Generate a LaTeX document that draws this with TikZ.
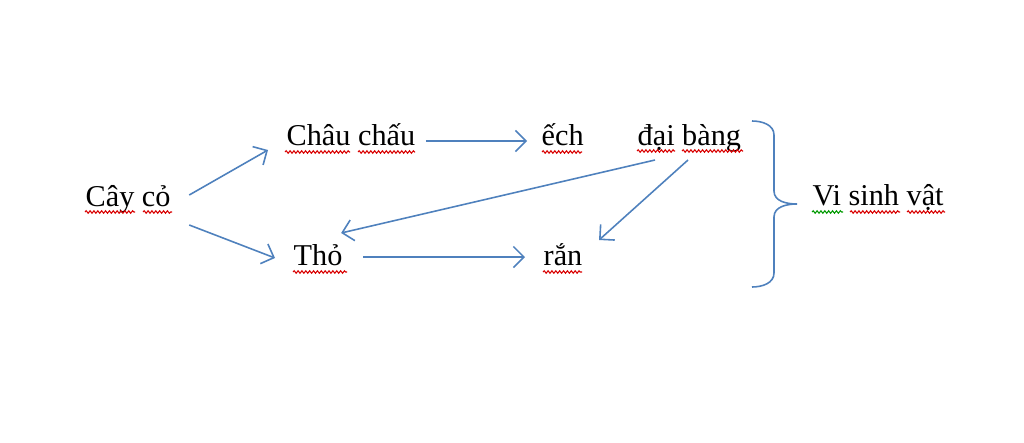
\documentclass[tikz,border=0pt]{standalone}
\usepackage{fontspec}
\setmainfont{Liberation Serif}
\usetikzlibrary{arrows.meta,calc,decorations.pathmorphing}
\definecolor{wordblue}{HTML}{4F81BD}
\tikzset{
  word/.style={anchor=base west, inner sep=0pt, font=\fontsize{8.6}{10}\selectfont},
  arr/.style={draw=wordblue, line width=0.45pt, -{Straight Barb[length=3pt,width=6pt]}},
  spell/.style={draw=red!85!black, line width=0.3pt, decorate,
    decoration={snake, segment length=1.1pt, amplitude=0.35pt}},
}
\begin{document}
\begin{tikzpicture}[x=0.01cm, y=-0.01cm]
    \useasboundingbox (0,0) rectangle (1024,442);

    % Words
    \node[word] (cay) at (85,206) {Cây cỏ};
    \node[word] (chau) at (286,145) {Châu chấu};
    \node[word] (ech) at (541,145) {ếch};
    \node[word] (dai) at (637,145) {đại bàng};
    \node[word] (tho) at (293,265) {Thỏ};
    \node[word] (ran) at (543,265) {rắn};
    \node[word] (vsv) at (812,205) {Vi sinh vật};

    % Arrows
    \draw[arr] ($(cay.base east)+(18,-11)$) -- ($(chau.base west)+(-18,5)$);
    \draw[arr] ($(cay.base east)+(18,19)$) -- ($(tho.base west)+(-18,-7)$);
    \draw[arr] ($(chau.base east)+(10,-4)$) -- ($(ech.base west)+(-14,-4)$);
    \draw[arr] ($(dai.base west)+(18,15)$) -- ($(tho.base east)+(-2,-32)$);
    \draw[arr] ($(dai.base west)+(51,15)$) -- ($(ran.base east)+(16,-25)$);
    \draw[arr] ($(tho.base east)+(20,-8)$) -- ($(ran.base west)+(-18,-8)$);

    % Brace
    \coordinate (tip) at ($(vsv.base west)+(-15,-1)$);
    \draw[wordblue, line width=0.45pt] (752,121) to[out=0,in=90] (774,135) -- (774,191)
        to[out=-90,in=180] (tip) to[out=180,in=90] (774,217) -- (774,273)
        to[out=-90,in=0] (752,287);

    % Spell check marks
    \draw[spell] (85,212) -- (135,212);
    \draw[spell] (143,212) -- (172,212);
    \draw[spell] (285,152) -- (350,152);
    \draw[spell] (358,152) -- (415,152);
    \draw[spell] (542,152) -- (582,152);
    \draw[spell] (637,151) -- (675,151);
    \draw[spell] (682,151) -- (743,151);
    \draw[spell] (293,272) -- (347,272);
    \draw[spell] (543,272) -- (582,272);
    \draw[spell, draw=green!60!black] (812,212) -- (843,212);
    \draw[spell] (850,212) -- (900,212);
    \draw[spell] (907,212) -- (945,212);
\end{tikzpicture}
\end{document}
